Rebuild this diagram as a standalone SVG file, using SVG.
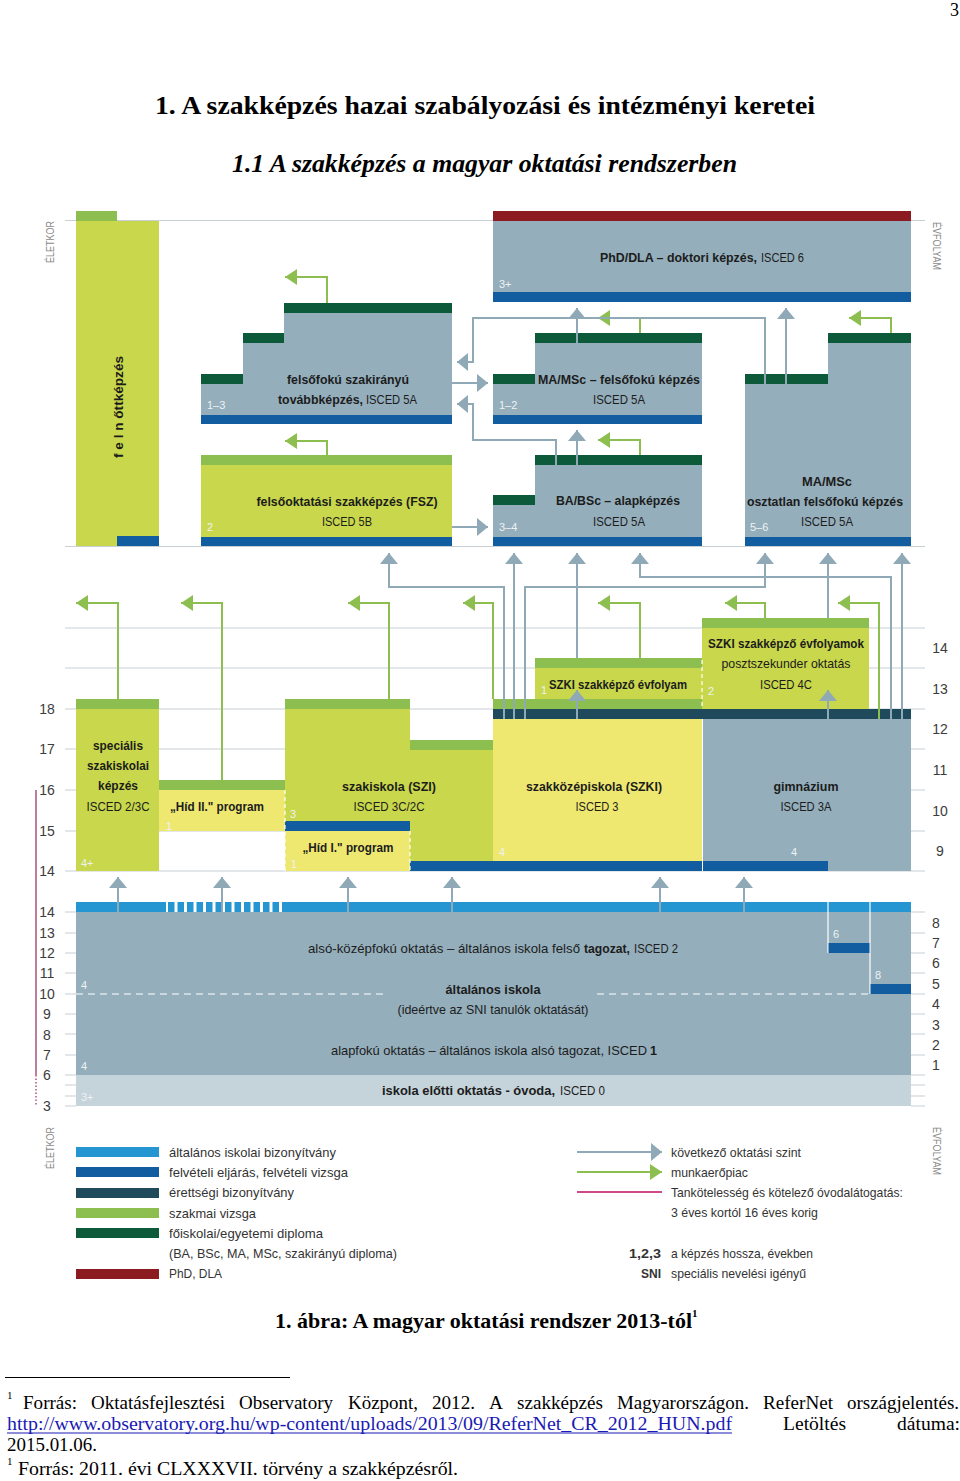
<svg xmlns="http://www.w3.org/2000/svg" width="960" height="1481" viewBox="0 0 960 1481">
<defs>
<style>
.t{font-family:'Liberation Sans',Arial,sans-serif;font-size:13.5px;fill:#1c1c1c;text-anchor:middle}
.s{text-anchor:start}
.b{font-weight:bold}
.w{font-family:'Liberation Sans',Arial,sans-serif;font-size:11px;fill:#eef2f4}
.ax{font-family:'Liberation Sans',Arial,sans-serif;font-size:14px;fill:#3c3c3c;text-anchor:middle}
.lg{font-family:'Liberation Sans',Arial,sans-serif;font-size:13.5px;fill:#333}
.rot{font-family:'Liberation Sans',Arial,sans-serif;font-size:11px;fill:#8a8a8a;text-anchor:middle}
.serif{font-family:'Liberation Serif','Times New Roman',serif;fill:#000}
.fn{font-family:'Liberation Serif','Times New Roman',serif;fill:#000;font-size:19px}
.grid{stroke:#c9d0d4;stroke-width:1.2}
.cg{fill:none;stroke:#8fa9b6;stroke-width:2;marker-end:url(#ab)}
.cgr{fill:none;stroke:#8cbf50;stroke-width:2;marker-end:url(#ag)}
.yg{fill:#c8d74b}.lgc{fill:#8cbf50}.ly{fill:#eee871}.gb{fill:#94aebb}.bl{fill:#115d9f}.dg{fill:#0c5a39}.te{fill:#1e4a5b}.dr{fill:#8b1b21}.cy{fill:#2596d2}.ov{fill:#c5d3da}
.wd{stroke:#fff;stroke-width:1.2;stroke-dasharray:4,3;fill:none}
</style>
<marker id="ab" markerUnits="userSpaceOnUse" markerWidth="12" markerHeight="18" viewBox="0 0 11 18" refX="11" refY="9" orient="auto"><path d="M0,0 L11,9 L0,18 z" fill="#8fa9b6"/></marker>
<marker id="ag" markerUnits="userSpaceOnUse" markerWidth="13" markerHeight="16" viewBox="0 0 12 16" refX="12" refY="8" orient="auto"><path d="M0,0 L12,8 L0,16 z" fill="#8cbf50"/></marker>
</defs>
<rect width="960" height="1481" fill="#fff"/>

<!-- page header -->
<text class="serif" x="950" y="16" font-size="18">3</text>
<text class="serif" x="155" y="114" font-size="25" font-weight="bold" textLength="660" lengthAdjust="spacingAndGlyphs">1. A szakképzés hazai szabályozási és intézményi keretei</text>
<text class="serif" x="232" y="172" font-size="25" font-weight="bold" font-style="italic" textLength="505" lengthAdjust="spacingAndGlyphs">1.1 A szakképzés a magyar oktatási rendszerben</text>

<!-- grid -->
<g id="grid">
<line class="grid" x1="65" y1="220.5" x2="925" y2="220.5"/>
<line class="grid" x1="65" y1="546.5" x2="925" y2="546.5"/>
<line class="grid" x1="65" y1="628" x2="925" y2="628"/>
<line class="grid" x1="65" y1="668" x2="925" y2="668"/>
<line class="grid" x1="65" y1="709" x2="925" y2="709"/>
<line class="grid" x1="65" y1="749" x2="925" y2="749"/>
<line class="grid" x1="65" y1="790" x2="925" y2="790"/>
<line class="grid" x1="65" y1="831" x2="925" y2="831"/>
<line class="grid" x1="65" y1="871" x2="925" y2="871"/>
<path class="grid" d="M65,912H76M65,933H76M65,953H76M65,973H76M65,994H76M65,1014H76M65,1034H76M65,1055H76M65,1075H76M65,1085H76M65,1096H76M65,1106H76"/>
<path class="grid" d="M911,912H925M911,933H925M911,953H925M911,973H925M911,994H925M911,1014H925M911,1034H925M911,1055H925M911,1075H925M911,1085H925M911,1096H925M911,1106H925"/>
<line x1="36" y1="790" x2="36" y2="1075" stroke="#a8557e" stroke-width="1.5"/>
<line x1="36" y1="1075" x2="36" y2="1106" stroke="#a8557e" stroke-width="1.5" stroke-dasharray="1.5,2"/>
</g>

<!-- axis labels -->
<g id="axis">
<text class="rot" transform="translate(54,242) rotate(-90)" textLength="42" lengthAdjust="spacingAndGlyphs">ÉLETKOR</text>
<text class="rot" transform="translate(933,246) rotate(90)" textLength="48" lengthAdjust="spacingAndGlyphs">ÉVFOLYAM</text>
<text class="rot" transform="translate(54,1148) rotate(-90)" textLength="42" lengthAdjust="spacingAndGlyphs">ÉLETKOR</text>
<text class="rot" transform="translate(933,1151) rotate(90)" textLength="48" lengthAdjust="spacingAndGlyphs">ÉVFOLYAM</text>
<text class="ax" x="47" y="714">18</text>
<text class="ax" x="47" y="754">17</text>
<text class="ax" x="47" y="795">16</text>
<text class="ax" x="47" y="836">15</text>
<text class="ax" x="47" y="876">14</text>
<text class="ax" x="47" y="917">14</text>
<text class="ax" x="47" y="938">13</text>
<text class="ax" x="47" y="958">12</text>
<text class="ax" x="47" y="978">11</text>
<text class="ax" x="47" y="999">10</text>
<text class="ax" x="47" y="1019">9</text>
<text class="ax" x="47" y="1040">8</text>
<text class="ax" x="47" y="1060">7</text>
<text class="ax" x="47" y="1080">6</text>
<text class="ax" x="47" y="1111">3</text>
<text class="ax" x="940" y="653">14</text>
<text class="ax" x="940" y="694">13</text>
<text class="ax" x="940" y="734">12</text>
<text class="ax" x="940" y="775">11</text>
<text class="ax" x="940" y="816">10</text>
<text class="ax" x="940" y="856">9</text>
<text class="ax" x="936" y="928">8</text>
<text class="ax" x="936" y="948">7</text>
<text class="ax" x="936" y="968">6</text>
<text class="ax" x="936" y="989">5</text>
<text class="ax" x="936" y="1009">4</text>
<text class="ax" x="936" y="1030">3</text>
<text class="ax" x="936" y="1050">2</text>
<text class="ax" x="936" y="1070">1</text>
</g>

<!-- upper section nodes -->
<g id="felnottkepzes">
<rect class="lgc" x="76" y="211" width="41" height="10"/>
<rect class="yg" x="76" y="221" width="83" height="325"/>
<rect class="bl" x="117" y="536" width="42" height="10"/>
<text class="t b" transform="translate(123,407) rotate(-90)" textLength="102" lengthAdjust="spacingAndGlyphs">f e l n őttképzés</text>
</g>
<g id="phd">
<rect class="dr" x="493" y="211" width="418" height="10"/>
<rect class="gb" x="493" y="221" width="418" height="71"/>
<rect class="bl" x="493" y="292" width="418" height="10"/>
<text class="t s b" x="600" y="262" textLength="157" lengthAdjust="spacingAndGlyphs">PhD/DLA – doktori képzés,</text>
<text class="t s" x="761" y="262" textLength="43" lengthAdjust="spacingAndGlyphs">ISCED 6</text>
<text class="w" x="499" y="288">3+</text>
</g>
<g id="szakiranyu">
<path class="gb" d="M201,384H243V343H284V313H452V415H201Z"/>
<rect class="dg" x="201" y="374" width="42" height="10"/>
<rect class="dg" x="243" y="333" width="41" height="10"/>
<rect class="dg" x="284" y="303" width="168" height="10"/>
<rect class="bl" x="201" y="415" width="251" height="9"/>
<text class="t b" x="348" y="384" textLength="122" lengthAdjust="spacingAndGlyphs">felsőfokú szakirányú</text>
<text class="t s b" x="278" y="404" textLength="85" lengthAdjust="spacingAndGlyphs">továbbképzés,</text>
<text class="t s" x="366" y="404" textLength="51" lengthAdjust="spacingAndGlyphs">ISCED 5A</text>
<text class="w" x="207" y="409">1–3</text>
</g>
<g id="fsz">
<rect class="lgc" x="201" y="455" width="251" height="10"/>
<rect class="yg" x="201" y="465" width="251" height="72"/>
<rect class="bl" x="201" y="537" width="251" height="9"/>
<text class="t b" x="347" y="506" textLength="181" lengthAdjust="spacingAndGlyphs">felsőoktatási szakképzés (FSZ)</text>
<text class="t" x="347" y="526" textLength="50" lengthAdjust="spacingAndGlyphs">ISCED 5B</text>
<text class="w" x="207" y="531">2</text>
</g>
<g id="ma">
<path class="gb" d="M493,384H535V343H702V415H493Z"/>
<rect class="dg" x="493" y="374" width="42" height="10"/>
<rect class="dg" x="535" y="333" width="167" height="10"/>
<rect class="bl" x="493" y="415" width="209" height="9"/>
<text class="t b" x="619" y="384" textLength="162" lengthAdjust="spacingAndGlyphs">MA/MSc – felsőfokú képzés</text>
<text class="t" x="619" y="404" textLength="52" lengthAdjust="spacingAndGlyphs">ISCED 5A</text>
<text class="w" x="499" y="409">1–2</text>
</g>
<g id="ba">
<path class="gb" d="M493,505H535V465H702V537H493Z"/>
<rect class="dg" x="493" y="495" width="42" height="10"/>
<rect class="dg" x="535" y="455" width="167" height="10"/>
<rect class="bl" x="493" y="537" width="209" height="9"/>
<text class="t b" x="618" y="505" textLength="124" lengthAdjust="spacingAndGlyphs">BA/BSc – alapképzés</text>
<text class="t" x="619" y="526" textLength="52" lengthAdjust="spacingAndGlyphs">ISCED 5A</text>
<text class="w" x="499" y="531">3–4</text>
</g>
<g id="osztatlan">
<path class="gb" d="M745,384H828V343H911V537H745Z"/>
<rect class="dg" x="745" y="374" width="83" height="10"/>
<rect class="dg" x="828" y="333" width="83" height="10"/>
<rect class="bl" x="745" y="537" width="166" height="9"/>
<text class="t b" x="827" y="486" textLength="50" lengthAdjust="spacingAndGlyphs">MA/MSc</text>
<text class="t b" x="825" y="506" textLength="156" lengthAdjust="spacingAndGlyphs">osztatlan felsőfokú képzés</text>
<text class="t" x="827" y="526" textLength="52" lengthAdjust="spacingAndGlyphs">ISCED 5A</text>
<text class="w" x="750" y="531">5–6</text>
</g>

<!-- middle section nodes -->
<g id="specialis">
<rect class="lgc" x="76" y="699" width="83" height="10"/>
<rect class="yg" x="76" y="709" width="83" height="162"/>
<text class="t b" x="118" y="750" textLength="50" lengthAdjust="spacingAndGlyphs">speciális</text>
<text class="t b" x="118" y="770" textLength="62" lengthAdjust="spacingAndGlyphs">szakiskolai</text>
<text class="t b" x="118" y="790" textLength="40" lengthAdjust="spacingAndGlyphs">képzés</text>
<text class="t" x="118" y="811" textLength="63" lengthAdjust="spacingAndGlyphs">ISCED 2/3C</text>
<text class="w" x="81" y="867">4+</text>
</g>
<g id="hid2">
<rect class="lgc" x="159" y="780" width="126" height="10"/>
<rect class="ly" x="159" y="790" width="126" height="41"/>
<text class="t b" x="217" y="811" textLength="94" lengthAdjust="spacingAndGlyphs">„Híd II." program</text>
<text class="w" x="166" y="830">1</text>
</g>
<g id="szakiskola">
<rect class="lgc" x="285" y="699" width="125" height="10"/>
<rect class="yg" x="285" y="709" width="125" height="112"/>
<rect class="bl" x="285" y="821" width="125" height="10"/>
<rect class="lgc" x="410" y="740" width="83" height="10"/>
<rect class="yg" x="410" y="750" width="83" height="111"/>
<rect class="bl" x="410" y="861" width="83" height="10"/>
<text class="t b" x="389" y="791" textLength="94" lengthAdjust="spacingAndGlyphs">szakiskola (SZI)</text>
<text class="t" x="389" y="811" textLength="71" lengthAdjust="spacingAndGlyphs">ISCED 3C/2C</text>
<text class="w" x="290" y="818">3</text>
</g>
<g id="hid1">
<rect class="ly" x="285" y="831" width="125" height="40"/>
<line class="wd" x1="285" y1="790" x2="285" y2="871"/>
<line class="wd" x1="410" y1="831" x2="410" y2="871"/>
<text class="t b" x="348" y="852" textLength="91" lengthAdjust="spacingAndGlyphs">„Híd I." program</text>
<text class="w" x="291" y="868">1</text>
</g>
<g id="szakkozepiskola">
<rect class="lgc" x="493" y="699" width="209" height="10"/>
<rect class="te" x="493" y="709" width="209" height="10"/>
<rect class="ly" x="493" y="719" width="209" height="142"/>
<rect class="bl" x="493" y="861" width="209" height="10"/>
<text class="t b" x="594" y="791" textLength="136" lengthAdjust="spacingAndGlyphs">szakközépiskola (SZKI)</text>
<text class="t" x="597" y="811" textLength="43" lengthAdjust="spacingAndGlyphs">ISCED 3</text>
<text class="w" x="499" y="856">4</text>
</g>
<g id="szki-evfolyam">
<rect class="lgc" x="535" y="658" width="167" height="10"/>
<rect class="yg" x="535" y="668" width="167" height="31"/>
<text class="t b" x="618" y="689" textLength="138" lengthAdjust="spacingAndGlyphs">SZKI szakképző évfolyam</text>
<text class="w" x="541" y="694">1</text>
</g>
<g id="szki-evfolyamok">
<rect class="lgc" x="702" y="618" width="167" height="10"/>
<rect class="yg" x="702" y="628" width="167" height="81"/>
<line class="wd" x1="702" y1="660" x2="702" y2="709"/>
<text class="t b" x="786" y="648" textLength="156" lengthAdjust="spacingAndGlyphs">SZKI szakképző évfolyamok</text>
<text class="t" x="786" y="668" textLength="129" lengthAdjust="spacingAndGlyphs">posztszekunder oktatás</text>
<text class="t" x="786" y="689" textLength="52" lengthAdjust="spacingAndGlyphs">ISCED 4C</text>
<text class="w" x="708" y="695">2</text>
</g>
<g id="gimnazium">
<rect class="te" x="702" y="709" width="209" height="10"/>
<rect class="gb" x="702" y="719" width="209" height="152"/>
<rect class="bl" x="702" y="861" width="126" height="10"/>
<line x1="702.5" y1="719" x2="702.5" y2="871" stroke="#fff" stroke-width="1"/>
<text class="t b" x="806" y="791" textLength="65" lengthAdjust="spacingAndGlyphs">gimnázium</text>
<text class="t" x="806" y="811" textLength="51" lengthAdjust="spacingAndGlyphs">ISCED 3A</text>
<text class="w" x="791" y="856">4</text>
</g>

<!-- bottom section nodes -->
<g id="altalanos-iskola">
<rect class="cy" x="76" y="902" width="90" height="10"/>
<line x1="168" y1="907" x2="285" y2="907" stroke="#2596d2" stroke-width="10" stroke-dasharray="6.5,3"/>
<rect class="cy" x="285" y="902" width="626" height="10"/>
<rect class="gb" x="76" y="912" width="835" height="163"/>
<line x1="828" y1="902" x2="828" y2="953" stroke="#fff" stroke-width="1.2"/>
<line x1="870" y1="902" x2="870" y2="994" stroke="#fff" stroke-width="1.2"/>
<rect class="bl" x="828.6" y="943" width="40.8" height="10"/>
<rect class="bl" x="870.6" y="984" width="40.4" height="10"/>
<line x1="76" y1="994" x2="385" y2="994" stroke="#fff" stroke-width="1.2" stroke-dasharray="7,5"/>
<line x1="597" y1="994" x2="870" y2="994" stroke="#fff" stroke-width="1.2" stroke-dasharray="7,5"/>
<text class="t s" x="308" y="953" textLength="272" lengthAdjust="spacingAndGlyphs">alsó-középfokú oktatás – általános iskola felső</text>
<text class="t s b" x="584" y="953" textLength="46" lengthAdjust="spacingAndGlyphs">tagozat,</text>
<text class="t s" x="634" y="953" textLength="44" lengthAdjust="spacingAndGlyphs">ISCED 2</text>
<text class="t b" x="493" y="994" textLength="95" lengthAdjust="spacingAndGlyphs">általános iskola</text>
<text class="t" x="493" y="1014" textLength="191" lengthAdjust="spacingAndGlyphs">(ideértve az SNI tanulók oktatását)</text>
<text class="t s" x="331" y="1055" textLength="316" lengthAdjust="spacingAndGlyphs">alapfokú oktatás – általános iskola alsó tagozat, ISCED</text>
<text class="t s b" x="650" y="1055" textLength="7" lengthAdjust="spacingAndGlyphs">1</text>
<text class="w" x="81" y="989">4</text>
<text class="w" x="81" y="1070">4</text>
<text class="w" x="833" y="938">6</text>
<text class="w" x="875" y="979">8</text>
</g>
<g id="ovoda">
<rect class="ov" x="76" y="1075" width="835" height="31"/>
<text class="t s b" x="382" y="1095" textLength="173" lengthAdjust="spacingAndGlyphs">iskola előtti oktatás - óvoda,</text>
<text class="t s" x="560" y="1095" textLength="45" lengthAdjust="spacingAndGlyphs">ISCED 0</text>
<text class="w" x="81" y="1101">3+</text>
</g>

<!-- connectors -->
<g id="connectors">
<path class="cgr" d="M327,303V277H285"/>
<path class="cgr" d="M327,455V441H285"/>
<path class="cgr" d="M640,333V318H598"/>
<path class="cgr" d="M640,455V440H598"/>
<path class="cgr" d="M891,333V318H849"/>
<path class="cg" d="M577,343V308"/>
<path class="cg" d="M786,384V308"/>
<path class="cg" d="M577,465V430"/>
<path class="cg" d="M765,384V318H473V362H457"/>
<path class="cg" d="M556,465V440H473V404H457"/>
<path class="cg" d="M452,383H488"/>
<path class="cg" d="M452,527H488"/>

<path class="cgr" d="M118,699V603H76"/>
<path class="cgr" d="M222,780V603H181"/>
<path class="cgr" d="M389,699V603H348"/>
<path class="cgr" d="M493,699V603H463"/>
<path class="cgr" d="M640,658V603H598"/>
<path class="cgr" d="M765,618V603H725"/>
<path class="cgr" d="M879,719V603H838"/>
<path class="cg" d="M504,719V587H389V553"/>
<path class="cg" d="M514,719V553"/>
<path class="cg" d="M525,719V587H765V553"/>
<path class="cg" d="M577,658V553"/>
<path class="cg" d="M577,719V690"/>
<path class="cg" d="M891,719V577H640V553"/>
<path class="cg" d="M828,618V553"/>
<path class="cg" d="M828,719V690"/>
<path class="cg" d="M902,719V553"/>

<path class="cg" d="M118,912V877"/>
<path class="cg" d="M222,912V877"/>
<path class="cg" d="M348,912V877"/>
<path class="cg" d="M452,912V877"/>
<path class="cg" d="M660,912V877"/>
<path class="cg" d="M744,912V877"/>
</g>

<!-- legend -->
<g id="legend-left">
<rect class="cy" x="76" y="1147" width="83" height="10"/>
<rect class="bl" x="76" y="1167" width="83" height="10"/>
<rect class="te" x="76" y="1188" width="83" height="10"/>
<rect class="lgc" x="76" y="1208" width="83" height="10"/>
<rect class="dg" x="76" y="1228" width="83" height="10"/>
<rect class="dr" x="76" y="1269" width="83" height="10"/>
<text class="lg" x="169" y="1157" textLength="167" lengthAdjust="spacingAndGlyphs">általános iskolai bizonyítvány</text>
<text class="lg" x="169" y="1177" textLength="179" lengthAdjust="spacingAndGlyphs">felvételi eljárás, felvételi vizsga</text>
<text class="lg" x="169" y="1197" textLength="125" lengthAdjust="spacingAndGlyphs">érettségi bizonyítvány</text>
<text class="lg" x="169" y="1218" textLength="87" lengthAdjust="spacingAndGlyphs">szakmai vizsga</text>
<text class="lg" x="169" y="1238" textLength="154" lengthAdjust="spacingAndGlyphs">főiskolai/egyetemi diploma</text>
<text class="lg" x="169" y="1258" textLength="228" lengthAdjust="spacingAndGlyphs">(BA, BSc, MA, MSc, szakirányú diploma)</text>
<text class="lg" x="169" y="1278" textLength="53" lengthAdjust="spacingAndGlyphs">PhD, DLA</text>
</g>
<g id="legend-right">
<path class="cg" d="M577,1152H662"/>
<path class="cgr" d="M577,1172H662"/>
<line x1="577" y1="1192" x2="662" y2="1192" stroke="#cf4a86" stroke-width="2"/>
<text class="lg" x="671" y="1157" textLength="130" lengthAdjust="spacingAndGlyphs">következő oktatási szint</text>
<text class="lg" x="671" y="1177" textLength="77" lengthAdjust="spacingAndGlyphs">munkaerőpiac</text>
<text class="lg" x="671" y="1197" textLength="232" lengthAdjust="spacingAndGlyphs">Tankötelesség és kötelező óvodalátogatás:</text>
<text class="lg" x="671" y="1217" textLength="147" lengthAdjust="spacingAndGlyphs">3 éves kortól 16 éves korig</text>
<text class="lg b" x="661" y="1258" text-anchor="end" textLength="32" lengthAdjust="spacingAndGlyphs">1,2,3</text>
<text class="lg" x="671" y="1258" textLength="142" lengthAdjust="spacingAndGlyphs">a képzés hossza, években</text>
<text class="lg b" x="661" y="1278" text-anchor="end" textLength="20" lengthAdjust="spacingAndGlyphs">SNI</text>
<text class="lg" x="671" y="1278" textLength="135" lengthAdjust="spacingAndGlyphs">speciális nevelési igényű</text>
</g>

<!-- caption & footnotes -->
<g id="caption">
<text class="serif" x="275" y="1328" font-size="21" font-weight="bold" textLength="417" lengthAdjust="spacingAndGlyphs">1. ábra: A magyar oktatási rendszer 2013-tól</text>
<text class="serif" x="692" y="1317" font-size="11" font-weight="bold">1</text>
</g>
<g id="footnotes">
<line x1="5" y1="1377.5" x2="290" y2="1377.5" stroke="#000" stroke-width="1"/>
<text class="serif" x="7" y="1399" font-size="11">1</text>
<text class="fn" x="23" y="1409" textLength="54" lengthAdjust="spacingAndGlyphs">Forrás:</text>
<text class="fn" x="91" y="1409" textLength="134" lengthAdjust="spacingAndGlyphs">Oktatásfejlesztési</text>
<text class="fn" x="239" y="1409" textLength="94" lengthAdjust="spacingAndGlyphs">Observatory</text>
<text class="fn" x="348" y="1409" textLength="70" lengthAdjust="spacingAndGlyphs">Központ,</text>
<text class="fn" x="432" y="1409" textLength="43" lengthAdjust="spacingAndGlyphs">2012.</text>
<text class="fn" x="489" y="1409" textLength="14" lengthAdjust="spacingAndGlyphs">A</text>
<text class="fn" x="517" y="1409" textLength="86" lengthAdjust="spacingAndGlyphs">szakképzés</text>
<text class="fn" x="617" y="1409" textLength="132" lengthAdjust="spacingAndGlyphs">Magyarországon.</text>
<text class="fn" x="763" y="1409" textLength="70" lengthAdjust="spacingAndGlyphs">ReferNet</text>
<text class="fn" x="847" y="1409" textLength="112" lengthAdjust="spacingAndGlyphs">országjelentés.</text>
<text class="fn" x="7" y="1430" style="fill:#1a1ab4" textLength="725" lengthAdjust="spacingAndGlyphs">http://www.observatory.org.hu/wp-content/uploads/2013/09/ReferNet_CR_2012_HUN.pdf</text>
<line x1="7" y1="1433" x2="732" y2="1433" stroke="#1a1ab4" stroke-width="1"/>
<text class="fn" x="783" y="1430" textLength="63" lengthAdjust="spacingAndGlyphs">Letöltés</text>
<text class="fn" x="897" y="1430" textLength="63" lengthAdjust="spacingAndGlyphs">dátuma:</text>
<text class="fn" x="7" y="1451" textLength="90" lengthAdjust="spacingAndGlyphs">2015.01.06.</text>
<text class="serif" x="7" y="1465" font-size="11">1</text>
<text class="fn" x="18" y="1475" textLength="440" lengthAdjust="spacingAndGlyphs">Forrás: 2011. évi CLXXXVII. törvény a szakképzésről.</text>
</g>
</svg>
